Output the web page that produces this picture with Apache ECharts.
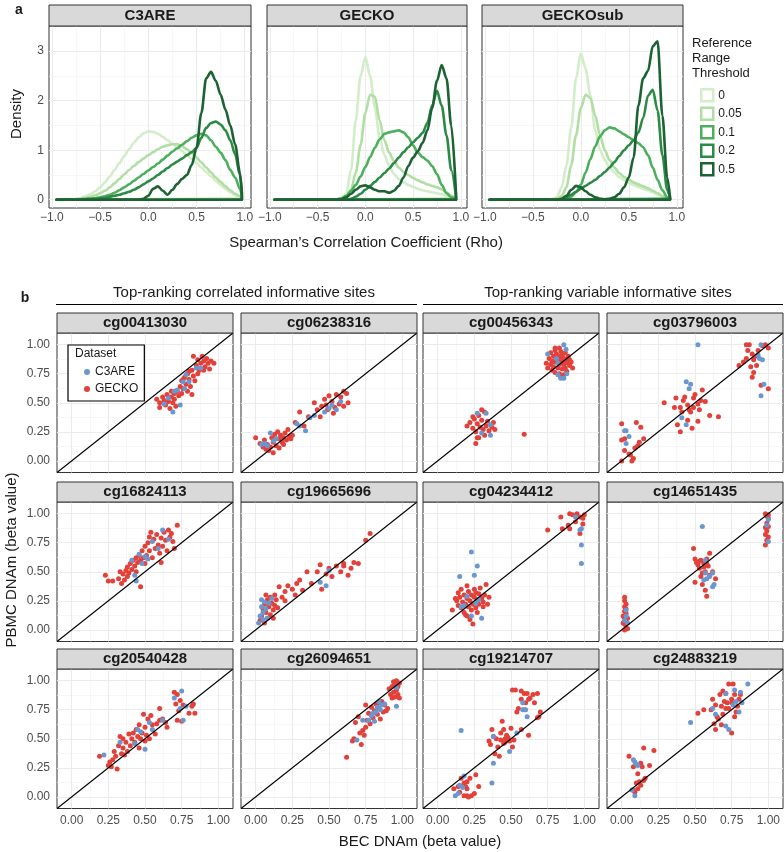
<!DOCTYPE html>
<html><head><meta charset="utf-8">
<script src="https://cdn.jsdelivr.net/npm/echarts@6/dist/echarts.min.js"></script>
<style>html,body{margin:0;padding:0;background:#fff}#c{width:784px;height:852px}</style>
</head><body><div id="c"></div>
<script>
// ================= DATA: panel a (density of Spearman's rho) =================
const facetsA = ['C3ARE', 'GECKO', 'GECKOsub'];
const thresholds = ['0', '0.05', '0.1', '0.2', '0.5'];
const rhoTicks = [-1, -0.5, 0, 0.5, 1];
const rhoTickLabels = ['\u22121.0', '\u22120.5', '0.0', '0.5', '1.0'];
const rhoMinor = [-0.75, -0.25, 0.25, 0.75];
const densTicks = [0, 1, 2, 3];
const densTickLabels = ['0', '1', '2', '3'];
const densMinor = [0.5, 1.5, 2.5];

const rhoC3ARE = [-0.95,-0.9,-0.85,-0.8,-0.75,-0.7,-0.65,-0.6,-0.55,-0.5,-0.45,-0.4,-0.35,-0.3,-0.25,-0.2,-0.15,-0.1,-0.05,0,0.05,0.1,0.15,0.2,0.25,0.3,0.35,0.4,0.45,0.5,0.55,0.6,0.65,0.7,0.75,0.8,0.85,0.9,0.95,0.97];
const rhoGECKO = [-0.95,-0.9,-0.85,-0.8,-0.75,-0.7,-0.65,-0.6,-0.55,-0.5,-0.45,-0.4,-0.35,-0.3,-0.25,-0.2,-0.15,-0.1,-0.05,0,0.05,0.1,0.15,0.2,0.25,0.3,0.35,0.4,0.45,0.5,0.55,0.6,0.65,0.7,0.75,0.8,0.85,0.9,0.95];
const rhoGECKOsub = [-0.95,-0.9,-0.85,-0.8,-0.75,-0.7,-0.65,-0.6,-0.55,-0.5,-0.45,-0.4,-0.35,-0.3,-0.25,-0.2,-0.15,-0.1,-0.05,0,0.05,0.1,0.15,0.2,0.25,0.3,0.35,0.4,0.45,0.5,0.55,0.6,0.65,0.7,0.75,0.8,0.85,0.9,0.93];

const densC3ARE_0   = [0,0,0.005,0.01,0.02,0.04,0.07,0.11,0.17,0.25,0.35,0.47,0.6,0.74,0.88,1.02,1.15,1.26,1.34,1.38,1.37,1.33,1.27,1.2,1.13,1.06,0.98,0.9,0.82,0.74,0.65,0.56,0.47,0.38,0.3,0.22,0.15,0.09,0.05,0.03];
const densC3ARE_005 = [0,0,0,0.005,0.01,0.02,0.04,0.06,0.09,0.13,0.18,0.25,0.33,0.42,0.51,0.6,0.68,0.76,0.83,0.9,0.96,1.02,1.07,1.1,1.12,1.12,1.08,1.02,0.94,0.85,0.75,0.65,0.55,0.45,0.36,0.27,0.19,0.12,0.07,0.05];
const densC3ARE_01  = [0,0,0,0,0.005,0.01,0.015,0.02,0.03,0.05,0.07,0.1,0.14,0.19,0.25,0.31,0.38,0.45,0.52,0.59,0.66,0.73,0.81,0.89,0.97,1.04,1.11,1.18,1.25,1.3,1.33,1.3,1.2,1.07,0.95,0.8,0.6,0.45,0.22,0.08];
const densC3ARE_02  = [0,0,0,0,0,0.005,0.01,0.015,0.02,0.03,0.04,0.06,0.08,0.1,0.13,0.16,0.2,0.25,0.31,0.37,0.43,0.5,0.57,0.64,0.71,0.77,0.83,0.9,0.96,1.05,1.25,1.45,1.55,1.58,1.52,1.4,1.2,0.92,0.5,0.12];
const densC3ARE_05  = [0,0,0,0,0,0,0,0,0,0,0,0,0,0,0,0,0,0,0.02,0.08,0.22,0.27,0.18,0.1,0.2,0.32,0.42,0.5,0.7,1.05,1.75,2.45,2.58,2.4,2.12,1.82,1.5,1.12,0.55,0.15];

const densGECKO_0   = [0,0,0,0,0,0,0,0,0,0,0,0,0,0.01,0.03,0.12,0.6,1.6,2.5,2.88,2.5,1.86,1.25,0.9,0.68,0.52,0.42,0.35,0.3,0.26,0.22,0.19,0.17,0.15,0.13,0.11,0.08,0.05,0.02];
const densGECKO_005 = [0,0,0,0,0,0,0,0,0,0,0,0,0,0,0.01,0.05,0.2,0.55,1.1,1.75,2.12,2.08,1.6,1.2,0.95,0.78,0.65,0.56,0.5,0.44,0.39,0.35,0.31,0.28,0.25,0.21,0.15,0.08,0.02];
const densGECKO_01  = [0,0,0,0,0,0,0,0,0,0,0,0,0,0.01,0.03,0.08,0.18,0.3,0.47,0.66,0.86,1.05,1.22,1.33,1.36,1.38,1.4,1.36,1.26,1.1,0.95,0.86,0.79,0.68,0.52,0.3,0.13,0.05,0.01];
const densGECKO_02  = [0,0,0,0,0,0,0,0,0,0,0,0,0,0,0,0,0.02,0.06,0.12,0.2,0.28,0.36,0.45,0.54,0.63,0.74,0.85,0.96,1.06,1.16,1.25,1.35,1.55,1.9,2.2,1.9,1.3,0.6,0.05];
const densGECKO_05  = [0,0,0,0,0,0,0,0,0,0,0,0,0,0,0.01,0.05,0.12,0.2,0.27,0.29,0.25,0.2,0.17,0.17,0.14,0.18,0.28,0.45,0.68,0.85,0.98,1.15,1.4,1.85,2.4,2.72,2.45,1.5,0.12];

const densGECKOsub_0   = [0,0,0,0,0,0,0,0,0,0,0,0,0,0.01,0.05,0.25,0.7,1.45,2.45,2.95,2.65,2.1,1.4,1.0,0.8,0.65,0.55,0.46,0.4,0.34,0.3,0.26,0.22,0.19,0.15,0.1,0.06,0.03,0.01];
const densGECKOsub_005 = [0,0,0,0,0,0,0,0,0,0,0,0,0,0,0.02,0.07,0.25,0.7,1.3,1.85,2.12,2.05,1.7,1.3,1.0,0.8,0.65,0.54,0.46,0.4,0.35,0.31,0.27,0.23,0.18,0.13,0.08,0.03,0.01];
const densGECKOsub_01  = [0,0,0,0,0,0,0,0,0,0,0,0,0,0,0,0,0.02,0.06,0.15,0.3,0.55,0.82,1.08,1.28,1.4,1.46,1.44,1.38,1.32,1.26,1.2,1.14,1.06,0.9,0.65,0.4,0.19,0.05,0.01];
const densGECKOsub_02  = [0,0,0,0,0,0,0,0,0,0,0,0,0,0,0,0.02,0.05,0.1,0.16,0.22,0.28,0.34,0.4,0.48,0.56,0.65,0.76,0.88,1.0,1.1,1.2,1.36,1.65,2.1,2.22,1.8,0.9,0.2,0.02];
const densGECKOsub_05  = [0,0,0,0,0,0,0,0,0,0,0,0,0,0,0,0.02,0.08,0.2,0.28,0.25,0.17,0.1,0.05,0.02,0.01,0.02,0.05,0.12,0.25,0.45,0.85,1.9,2.45,2.6,3.1,3.2,1.7,0.45,0.05];

const rhoByFacet = [rhoC3ARE, rhoGECKO, rhoGECKOsub];
const densByFacet = [
  [densC3ARE_0, densC3ARE_005, densC3ARE_01, densC3ARE_02, densC3ARE_05],
  [densGECKO_0, densGECKO_005, densGECKO_01, densGECKO_02, densGECKO_05],
  [densGECKOsub_0, densGECKOsub_005, densGECKOsub_01, densGECKOsub_02, densGECKOsub_05]
];

// ================= DATA: panel b (BEC vs PBMC DNAm) =================
const sites = ['cg00413030','cg06238316','cg00456343','cg03796003',
               'cg16824113','cg19665696','cg04234412','cg14651435',
               'cg20540428','cg26094651','cg19214707','cg24883219'];
const datasets = ['C3ARE', 'GECKO'];
const betaTicks = [0, 0.25, 0.5, 0.75, 1];
const betaTickLabels = ['0.00', '0.25', '0.50', '0.75', '1.00'];
const betaMinor = [0.125, 0.375, 0.625, 0.875];

const c3are_cg00413030 = [[0.63,0.49],[0.69,0.42],[0.74,0.48],[0.78,0.74],[0.76,0.68],[0.72,0.61],[0.85,0.8],[0.88,0.8],[0.66,0.54],[0.77,0.62],[0.7,0.6],[0.8,0.68]];
const gecko_cg00413030 = [[0.58,0.53],[0.6,0.5],[0.6,0.46],[0.62,0.55],[0.63,0.52],[0.64,0.48],[0.65,0.57],[0.66,0.51],[0.67,0.45],[0.68,0.55],[0.69,0.5],[0.7,0.53],[0.7,0.58],[0.71,0.47],[0.72,0.6],[0.73,0.56],[0.74,0.64],[0.75,0.58],[0.75,0.69],[0.76,0.62],[0.77,0.72],[0.78,0.66],[0.79,0.6],[0.79,0.75],[0.8,0.7],[0.81,0.64],[0.82,0.78],[0.82,0.57],[0.83,0.73],[0.84,0.69],[0.85,0.82],[0.86,0.87],[0.87,0.78],[0.88,0.84],[0.89,0.9],[0.9,0.86],[0.91,0.81],[0.92,0.88],[0.93,0.84],[0.95,0.86],[0.97,0.84],[0.9,0.78],[0.94,0.79],[0.86,0.75],[0.8,0.77],[0.76,0.7],[0.68,0.6],[0.83,0.9]];

const c3are_cg06238316 = [[0.06,0.15],[0.08,0.13],[0.1,0.24],[0.12,0.17],[0.14,0.19],[0.28,0.32],[0.3,0.3],[0.34,0.26],[0.37,0.37],[0.4,0.39],[0.47,0.42],[0.5,0.45],[0.52,0.48],[0.55,0.44],[0.58,0.51],[0.04,0.14]];
const gecko_cg06238316 = [[0.0,0.2],[0.03,0.15],[0.05,0.12],[0.06,0.18],[0.07,0.1],[0.08,0.14],[0.09,0.09],[0.1,0.12],[0.11,0.2],[0.12,0.16],[0.13,0.23],[0.14,0.13],[0.15,0.25],[0.16,0.19],[0.17,0.22],[0.18,0.16],[0.19,0.2],[0.2,0.24],[0.21,0.18],[0.22,0.27],[0.23,0.21],[0.25,0.22],[0.27,0.33],[0.3,0.42],[0.33,0.3],[0.36,0.38],[0.4,0.5],[0.42,0.44],[0.44,0.38],[0.45,0.47],[0.47,0.53],[0.48,0.48],[0.5,0.56],[0.52,0.51],[0.54,0.46],[0.55,0.57],[0.57,0.49],[0.58,0.55],[0.6,0.6],[0.62,0.58],[0.6,0.47],[0.63,0.5],[0.53,0.41],[0.49,0.44],[0.12,0.07],[0.16,0.11],[0.19,0.14],[0.24,0.19],[0.13,0.19]];

const c3are_cg00456343 = [[0.75,0.92],[0.86,1.0],[0.875,0.96],[0.82,0.84],[0.82,0.74],[0.84,0.71],[0.86,0.71],[0.88,0.75],[0.81,0.88],[0.27,0.41],[0.33,0.41],[0.36,0.31],[0.3,0.24],[0.36,0.22]];
const gecko_cg00456343 = [[0.74,0.84],[0.75,0.8],[0.76,0.88],[0.77,0.83],[0.77,0.93],[0.78,0.78],[0.78,0.86],[0.79,0.9],[0.79,0.81],[0.8,0.95],[0.8,0.85],[0.8,0.76],[0.81,0.88],[0.81,0.92],[0.82,0.8],[0.82,0.86],[0.83,0.9],[0.83,0.83],[0.83,0.75],[0.84,0.88],[0.84,0.94],[0.85,0.85],[0.85,0.79],[0.85,0.91],[0.86,0.83],[0.86,0.88],[0.87,0.8],[0.87,0.93],[0.88,0.86],[0.88,0.77],[0.89,0.84],[0.89,0.9],[0.9,0.82],[0.9,0.87],[0.91,0.85],[0.92,0.8],[0.84,0.72],[0.8,0.97],[0.86,0.74],[0.83,0.97],
  [0.2,0.3],[0.22,0.33],[0.24,0.28],[0.25,0.36],[0.26,0.25],[0.27,0.32],[0.28,0.39],[0.28,0.2],[0.29,0.29],[0.3,0.35],[0.31,0.27],[0.32,0.42],[0.32,0.22],[0.33,0.3],[0.34,0.34],[0.35,0.26],[0.37,0.29],[0.38,0.33],[0.39,0.27],[0.26,0.15],[0.27,0.2],[0.24,0.38],[0.3,0.44],[0.59,0.23]];

const c3are_cg03796003 = [[0.02,0.26],[0.03,0.26],[0.05,0.21],[0.03,0.15],[0.44,0.68],[0.47,0.66],[0.46,0.62],[0.41,0.37],[0.44,0.31],[0.52,1.0],[0.95,1.0],[0.94,0.88],[0.96,0.87],[0.97,0.66],[0.95,0.56],[0.93,0.91]];
const gecko_cg03796003 = [[0,0.32],[0,0.18],[0.02,0.09],[0,0.0],[0.06,0.05],[0.07,0.0],[0.08,0.02],[0.1,0.33],[0.13,0.29],[0.12,0.16],[0.11,0.13],[0.09,0.11],[0.05,0.06],[0.15,0.19],[0.02,0.19],
  [0.29,0.5],[0.37,0.54],[0.4,0.46],[0.43,0.55],[0.45,0.48],[0.47,0.42],[0.49,0.54],[0.52,0.49],[0.54,0.52],[0.55,0.61],[0.57,0.51],[0.6,0.39],[0.66,0.38],[0.38,0.31],[0.4,0.25],[0.45,0.35],[0.48,0.28],[0.52,0.34],[0.36,0.46],[0.41,0.42],[0.49,0.46],[0.46,0.44],[0.53,0.44],[0.42,0.52],[0.5,0.57],
  [0.85,1.0],[0.87,1.0],[0.86,0.95],[0.89,0.92],[0.9,0.87],[0.93,0.95],[0.97,0.99],[1.0,0.97],[0.98,1.0],[0.88,0.81],[0.92,0.82],[0.8,0.82],[0.85,0.88],[0.89,0.72],[0.9,0.76],[0.95,0.65],[1.0,0.62],[0.96,0.99],[0.91,0.9],[0.83,0.85]];

const c3are_cg16824113 = [[0.41,0.6],[0.43,0.47],[0.44,0.42],[0.46,0.65],[0.48,0.57],[0.5,0.63],[0.55,0.76],[0.59,0.7],[0.62,0.86],[0.66,0.78],[0.52,0.61]];
const gecko_cg16824113 = [[0.23,0.47],[0.25,0.42],[0.28,0.42],[0.32,0.44],[0.33,0.5],[0.34,0.4],[0.35,0.48],[0.36,0.43],[0.37,0.51],[0.38,0.46],[0.38,0.54],[0.39,0.49],[0.4,0.57],[0.41,0.52],[0.42,0.6],[0.43,0.55],[0.44,0.62],[0.44,0.5],[0.45,0.58],[0.46,0.64],[0.47,0.6],[0.47,0.37],[0.48,0.68],[0.49,0.62],[0.5,0.72],[0.5,0.57],[0.51,0.64],[0.52,0.75],[0.53,0.68],[0.54,0.84],[0.55,0.62],[0.56,0.78],[0.57,0.7],[0.58,0.82],[0.59,0.73],[0.6,0.66],[0.61,0.79],[0.62,0.72],[0.63,0.84],[0.64,0.77],[0.65,0.68],[0.66,0.86],[0.67,0.8],[0.68,0.83],[0.7,0.7],[0.72,0.9],[0.69,0.76],[0.61,0.58],[0.53,0.8]];

const c3are_cg19665696 = [[0.02,0.06],[0.03,0.12],[0.04,0.2],[0.04,0.26],[0.05,0.15],[0.06,0.24],[0.07,0.18],[0.08,0.1],[0.09,0.23],[0.11,0.27],[0.05,0.09],[0.44,0.41],[0.48,0.38],[0.5,0.51]];
const gecko_cg19665696 = [[0.03,0.08],[0.04,0.12],[0.05,0.18],[0.06,0.22],[0.06,0.06],[0.07,0.15],[0.08,0.26],[0.08,0.1],[0.09,0.2],[0.1,0.28],[0.1,0.13],[0.11,0.23],[0.12,0.17],[0.13,0.3],[0.13,0.21],[0.14,0.26],[0.15,0.19],[0.12,0.1],[0.07,0.3],[0.18,0.28],[0.2,0.25],
  [0.16,0.37],[0.2,0.33],[0.22,0.38],[0.25,0.35],[0.27,0.3],[0.28,0.4],[0.3,0.43],[0.32,0.34],[0.35,0.5],[0.38,0.4],[0.42,0.5],[0.45,0.35],[0.48,0.48],[0.52,0.46],[0.55,0.55],[0.58,0.5],[0.6,0.55],[0.63,0.47],[0.65,0.53],[0.67,0.58],[0.7,0.57],[0.75,0.77],[0.78,0.83],[0.6,0.57],[0.5,0.53],[0.44,0.56]];

const c3are_cg04234412 = [[0.94,0.97],[0.98,0.87],[0.97,0.86],[0.98,0.73],[0.98,0.57],[0.23,0.67],[0.27,0.55],[0.15,0.46],[0.25,0.47],[0.23,0.12],[0.3,0.1],[0.18,0.21],[0.28,0.26],[0.26,0.23],[0.2,0.29],[0.16,0.2]];
const gecko_cg04234412 = [[0.75,0.86],[0.84,0.97],[0.85,0.87],[0.89,0.9],[0.9,1.0],[0.92,0.99],[0.95,1.0],[0.97,0.97],[0.99,0.96],[1.0,0.99],[0.94,0.93],[0.97,0.83],[0.99,0.91],[0.9,0.87],
  [0.1,0.17],[0.12,0.27],[0.13,0.25],[0.14,0.21],[0.15,0.28],[0.16,0.19],[0.17,0.24],[0.18,0.3],[0.18,0.15],[0.19,0.22],[0.2,0.27],[0.2,0.12],[0.21,0.33],[0.21,0.2],[0.22,0.25],[0.23,0.3],[0.23,0.17],[0.24,0.22],[0.25,0.28],[0.25,0.35],[0.26,0.19],[0.27,0.26],[0.28,0.31],[0.28,0.22],[0.29,0.36],[0.3,0.27],[0.31,0.24],[0.32,0.3],[0.33,0.39],[0.34,0.22],[0.35,0.28],[0.16,0.35],[0.2,0.38],[0.24,0.05],[0.22,0.09],[0.19,0.13],[0.27,0.15],[0.31,0.2],[0.14,0.32],[0.26,0.32]];

const c3are_cg14651435 = [[0.03,0.12],[0.02,0.08],[0.04,0.06],[0.03,0.17],[0.55,0.89],[0.57,0.49],[0.58,0.44],[0.6,0.46],[0.62,0.49],[0.62,0.37],[0.63,0.39],[0.57,0.6],[0.56,0.43],[1.0,0.95],[1.0,0.76],[0.99,0.9]];
const gecko_cg14651435 = [[0.02,0.28],[0.02,0.25],[0.03,0.22],[0.02,0.2],[0.03,0.18],[0.02,0.16],[0.03,0.14],[0.02,0.1],[0.03,0.08],[0.02,0.05],[0.03,0.02],[0.02,0.0],[0.04,0.01],[0.01,0.06],[0.04,0.1],[0.01,0.12],
  [0.49,0.7],[0.5,0.61],[0.52,0.56],[0.54,0.6],[0.56,0.57],[0.58,0.61],[0.6,0.66],[0.53,0.53],[0.55,0.49],[0.57,0.5],[0.5,0.41],[0.55,0.39],[0.57,0.34],[0.58,0.29],[0.64,0.44],[0.6,0.47],[0.53,0.59],[0.56,0.54],[0.59,0.55],[0.54,0.46],[0.51,0.58],[0.58,0.57],[0.62,0.5],
  [0.98,1.0],[0.99,0.98],[1.0,0.99],[1.0,0.96],[0.99,0.92],[0.98,0.88],[0.99,0.85],[0.98,0.82],[1.0,0.8],[0.99,0.77],[0.98,0.73],[1.0,0.89]];

const c3are_cg20540428 = [[0.22,0.36],[0.33,0.47],[0.43,0.46],[0.45,0.58],[0.5,0.41],[0.53,0.64],[0.55,0.58],[0.62,0.66],[0.7,0.85],[0.75,0.91],[0.74,0.76],[0.76,0.66],[0.78,0.78],[0.47,0.56]];
const gecko_cg20540428 = [[0.19,0.35],[0.25,0.27],[0.26,0.3],[0.27,0.26],[0.29,0.39],[0.3,0.35],[0.31,0.24],[0.32,0.44],[0.33,0.52],[0.34,0.37],[0.35,0.42],[0.36,0.36],[0.37,0.47],[0.38,0.39],[0.39,0.54],[0.4,0.44],[0.41,0.5],[0.42,0.55],[0.43,0.47],[0.44,0.58],[0.45,0.52],[0.46,0.42],[0.46,0.62],[0.47,0.5],[0.48,0.55],[0.49,0.71],[0.5,0.48],[0.5,0.6],[0.51,0.53],[0.52,0.67],[0.53,0.5],[0.54,0.7],[0.55,0.62],[0.57,0.54],[0.58,0.63],[0.6,0.76],[0.6,0.66],[0.62,0.67],[0.64,0.64],[0.7,0.9],[0.71,0.8],[0.72,0.88],[0.73,0.74],[0.74,0.83],[0.75,0.65],[0.76,0.79],[0.8,0.72],[0.82,0.78],[0.83,0.8],[0.84,0.72],[0.72,0.66],[0.65,0.6],[0.35,0.5],[0.28,0.32]];

const c3are_cg26094651 = [[0.69,0.49],[0.73,0.66],[0.77,0.66],[0.79,0.7],[0.81,0.65],[0.82,0.73],[0.83,0.77],[0.85,0.75],[0.86,0.79],[0.88,0.8],[0.84,0.82],[0.96,0.94],[0.96,0.78],[0.8,0.72]];
const gecko_cg26094651 = [[0.62,0.34],[0.66,0.48],[0.67,0.5],[0.68,0.64],[0.7,0.69],[0.72,0.45],[0.73,0.57],[0.74,0.53],[0.75,0.6],[0.75,0.79],[0.76,0.66],[0.77,0.72],[0.78,0.63],[0.79,0.77],[0.8,0.68],[0.81,0.74],[0.82,0.8],[0.83,0.71],[0.84,0.76],[0.85,0.67],[0.86,0.82],[0.87,0.73],[0.88,0.79],[0.89,0.74],[0.9,0.76],[0.91,0.93],[0.92,0.88],[0.93,0.85],[0.94,0.9],[0.95,0.97],[0.95,0.86],[0.96,1.0],[0.96,0.92],[0.97,0.95],[0.97,0.88],[0.98,0.98],[0.98,0.85],[0.94,0.99],[0.93,0.95],[0.97,0.97],[0.84,0.81],[0.79,0.7],[0.71,0.55]];

const c3are_cg19214707 = [[0.12,0.01],[0.14,0.03],[0.15,0.1],[0.17,0.08],[0.18,0.18],[0.37,0.12],[0.16,0.57],[0.58,0.75],[0.59,0.75],[0.6,0.75],[0.58,0.81],[0.61,0.69],[0.54,0.55],[0.49,0.39],[0.38,0.29],[0.38,0.52]];
const gecko_cg19214707 = [[0.11,0.07],[0.14,0.09],[0.18,0.01],[0.2,0.01],[0.21,0.0],[0.23,0.01],[0.25,0.03],[0.18,0.12],[0.2,0.13],[0.22,0.16],[0.26,0.19],[0.28,0.09],[0.15,0.04],[0.19,0.09],[0.2,0.07],[0.16,0.16],
  [0.35,0.48],[0.36,0.45],[0.38,0.52],[0.39,0.37],[0.41,0.43],[0.43,0.49],[0.44,0.65],[0.45,0.58],[0.46,0.5],[0.47,0.53],[0.49,0.48],[0.5,0.59],[0.51,0.43],[0.52,0.49],[0.57,0.58],[0.62,0.53],[0.42,0.35],[0.45,0.46],[0.47,0.5],[0.43,0.55],[0.37,0.58],[0.48,0.51],[0.46,0.47],[0.4,0.5],
  [0.51,0.92],[0.53,0.92],[0.57,0.91],[0.59,0.89],[0.61,0.89],[0.65,0.88],[0.68,0.89],[0.6,0.81],[0.62,0.84],[0.66,0.81],[0.54,0.73],[0.55,0.76],[0.7,0.73],[0.69,0.69],[0.68,0.68],[0.57,0.84],[0.63,0.85]];

const c3are_cg24883219 = [[0.08,0.32],[0.09,0.3],[0.11,0.27],[0.07,0.06],[0.09,0.01],[0.1,0.28],[0.47,0.64],[0.62,0.76],[0.64,0.71],[0.71,0.89],[0.77,0.92],[0.81,0.9],[0.82,0.81],[0.8,0.73],[0.86,0.97],[0.71,0.61],[0.73,0.58],[0.76,0.79],[0.78,0.82]];
const gecko_cg24883219 = [[0.05,0.35],[0.08,0.26],[0.13,0.29],[0.15,0.42],[0.22,0.4],[0.14,0.26],[0.11,0.2],[0.1,0.12],[0.13,0.1],[0.11,0.07],[0.09,0.04],[0.15,0.14],[0.16,0.16],[0.19,0.27],[0.08,0.06],[0.12,0.13],
  [0.52,0.72],[0.56,0.75],[0.62,0.84],[0.63,0.63],[0.64,0.58],[0.65,0.69],[0.67,0.88],[0.69,0.91],[0.71,0.89],[0.73,0.97],[0.76,0.97],[0.75,0.84],[0.73,0.76],[0.71,0.76],[0.69,0.71],[0.75,0.55],[0.77,0.69],[0.78,0.73],[0.8,0.84],[0.81,0.88],[0.68,0.62],[0.77,0.88],[0.64,0.79],[0.61,0.75],[0.79,0.78],[0.72,0.81],[0.7,0.82],[0.68,0.78],[0.75,0.81],[0.66,0.67]];

const c3areBySite = [c3are_cg00413030, c3are_cg06238316, c3are_cg00456343, c3are_cg03796003,
  c3are_cg16824113, c3are_cg19665696, c3are_cg04234412, c3are_cg14651435,
  c3are_cg20540428, c3are_cg26094651, c3are_cg19214707, c3are_cg24883219];
const geckoBySite = [gecko_cg00413030, gecko_cg06238316, gecko_cg00456343, gecko_cg03796003,
  gecko_cg16824113, gecko_cg19665696, gecko_cg04234412, gecko_cg14651435,
  gecko_cg20540428, gecko_cg26094651, gecko_cg19214707, gecko_cg24883219];

// ================= STYLE / LAYOUT =================
const FONT = '"Liberation Sans", Arial, Helvetica, sans-serif';
const greens = ['#d3edc9', '#b0dea3', '#4caf5c', '#2b8b45', '#1c6233'];
const datasetColors = ['#6a97cf', '#e3403a'];
const rangeA = {x: [-1.03, 1.065], y: [-0.167, 3.507]};
const rangeB = [-0.1, 1.1];
const boxesA = [{left: 49, width: 202}, {left: 267, width: 200}, {left: 482, width: 201}];
const topA = 26, heightA = 182, stripA = 21;
const colsB = [57, 241, 423, 607], widthB = 176;
const rowsB = [333, 502, 669], heightB = 139.5, stripB = 20;

function lab(ticks, labels) {
  return function (v) {
    for (let i = 0; i < ticks.length; i++) if (Math.abs(ticks[i] - v) < 1e-6) return labels[i];
    return '';
  };
}
function axis(gi, range, ticks, labels, show, margin) {
  return {
    gridIndex: gi, type: 'value', min: range[0], max: range[1],
    axisLine: {show: false}, splitLine: {show: false}, minorTick: {show: false}, minorSplitLine: {show: false},
    axisTick: {show: show, customValues: ticks, length: 3, lineStyle: {color: '#333333', width: 1}},
    axisLabel: {show: show, customValues: ticks, margin: margin, fontSize: 12, color: '#4d4d4d', fontFamily: FONT,
      formatter: lab(ticks, labels), hideOverlap: false}
  };
}
function gridLineSeries(gi, xMaj, xMin, yMaj, yMin) {
  const d = [];
  const maj = {color: '#ebebeb', width: 1.1, type: 'solid'};
  const mnr = {color: '#f4f4f4', width: 0.7, type: 'solid'};
  xMin.forEach(v => d.push({xAxis: v, lineStyle: mnr}));
  yMin.forEach(v => d.push({yAxis: v, lineStyle: mnr}));
  xMaj.forEach(v => d.push({xAxis: v, lineStyle: maj}));
  yMaj.forEach(v => d.push({yAxis: v, lineStyle: maj}));
  return {type: 'line', xAxisIndex: gi, yAxisIndex: gi, data: [], silent: true, z: 1,
    markLine: {silent: true, z: 1, precision: 6, symbol: ['none', 'none'], label: {show: false},
      emphasis: {disabled: true}, animation: false, data: d}};
}

const grids = [], xAxes = [], yAxes = [], series = [], gfx = [];

// ---- panel a ----
facetsA.forEach((f, fi) => {
  const gi = grids.length;
  const b = boxesA[fi];
  grids.push({left: b.left, top: topA, width: b.width, height: heightA, show: true,
    borderColor: '#333333', borderWidth: 1, backgroundColor: '#ffffff', containLabel: false});
  xAxes.push(axis(gi, rangeA.x, rhoTicks, rhoTickLabels, true, 4));
  yAxes.push(axis(gi, rangeA.y, densTicks, densTickLabels, fi === 0, 5));
  series.push(gridLineSeries(gi, rhoTicks, rhoMinor, densTicks, densMinor));
  const xs = rhoByFacet[fi];
  densByFacet[fi].forEach((ys, ti) => {
    const style = {color: greens[ti], width: 2.6, cap: 'round', join: 'round'};
    series.push({type: 'line', name: thresholds[ti], xAxisIndex: gi, yAxisIndex: gi,
      data: xs.map((x, i) => [x, ys[i]]), symbol: 'none', smooth: 0.3, smoothMonotone: 'x',
      lineStyle: style, itemStyle: {color: greens[ti]}, z: 2 + ti * 0.01, silent: true});
    // ggplot draws the closed density outline: drop to zero and baseline back to the first value
    const last = xs.length - 1;
    series.push({type: 'line', name: thresholds[ti], xAxisIndex: gi, yAxisIndex: gi,
      data: [[xs[last], ys[last]], [xs[last], 0], [xs[0], 0]], symbol: 'none', smooth: false,
      lineStyle: style, itemStyle: {color: greens[ti]}, z: 2 + ti * 0.01, silent: true});
  });
  gfx.push({type: 'rect', shape: {x: b.left, y: topA - stripA, width: b.width, height: stripA},
    style: {fill: '#d9d9d9', stroke: '#333333', lineWidth: 1}, z: 5});
  gfx.push({type: 'text', x: b.left + b.width / 2, y: topA - stripA / 2, z: 6,
    style: {text: f, align: 'center', verticalAlign: 'middle', font: 'bold 15px ' + FONT, fill: '#1a1a1a'}});
});

// ---- panel b ----
sites.forEach((s, si) => {
  const gi = grids.length;
  const r = Math.floor(si / 4), c = si % 4;
  const left = colsB[c], top = rowsB[r];
  grids.push({left: left, top: top, width: widthB, height: heightB, show: true,
    borderColor: '#333333', borderWidth: 1, backgroundColor: '#ffffff', containLabel: false});
  xAxes.push(axis(gi, rangeB, betaTicks, betaTickLabels, r === 2, 6));
  yAxes.push(axis(gi, rangeB, betaTicks, betaTickLabels, c === 0, 7));
  series.push(gridLineSeries(gi, betaTicks, betaMinor, betaTicks, betaMinor));
  series.push({type: 'scatter', name: datasets[1], xAxisIndex: gi, yAxisIndex: gi, data: geckoBySite[si],
    symbolSize: 5, itemStyle: {color: datasetColors[1], opacity: 1}, z: 3, silent: true});
  series.push({type: 'scatter', name: datasets[0], xAxisIndex: gi, yAxisIndex: gi, data: c3areBySite[si],
    symbolSize: 5, itemStyle: {color: datasetColors[0], opacity: 1}, z: 3, silent: true});
  // identity line y = x across the panel range
  series.push({type: 'line', xAxisIndex: gi, yAxisIndex: gi, data: [[rangeB[0], rangeB[0]], [rangeB[1], rangeB[1]]],
    symbol: 'none', lineStyle: {color: '#000000', width: 1.1}, z: 4, silent: true});
  gfx.push({type: 'rect', shape: {x: left, y: top - stripB, width: widthB, height: stripB},
    style: {fill: '#d9d9d9', stroke: '#333333', lineWidth: 1}, z: 5});
  gfx.push({type: 'text', x: left + widthB / 2, y: top - stripB / 2, z: 6,
    style: {text: s, align: 'center', verticalAlign: 'middle', font: 'bold 15px ' + FONT, fill: '#1a1a1a'}});
});

// ---- text annotations ----
function txt(t, x, y, font, align, rot) {
  const e = {type: 'text', x: x, y: y, z: 6, style: {text: t, align: align || 'center', verticalAlign: 'middle', font: font, fill: '#1a1a1a'}};
  if (rot) e.rotation = rot;
  return e;
}
gfx.push(txt('a', 19, 10, 'bold 14px ' + FONT, 'center'));
gfx.push(txt('Density', 17, 114, '15px ' + FONT, 'center', Math.PI / 2));
gfx.push(txt('Spearman\u2019s Correlation Coefficient (Rho)', 366, 243, '15px ' + FONT, 'center'));
gfx.push(txt('Reference', 692, 43, '13px ' + FONT, 'left'));
gfx.push(txt('Range', 692, 58, '13px ' + FONT, 'left'));
gfx.push(txt('Threshold', 692, 73, '13px ' + FONT, 'left'));
gfx.push(txt('b', 25, 298, 'bold 14px ' + FONT, 'center'));
gfx.push(txt('Top-ranking correlated informative sites', 244, 293, '15px ' + FONT, 'center'));
gfx.push(txt('Top-ranking variable informative sites', 608, 293, '15px ' + FONT, 'center'));
gfx.push({type: 'line', shape: {x1: 56, y1: 304.5, x2: 417, y2: 304.5}, style: {stroke: '#000', lineWidth: 1}, z: 6});
gfx.push({type: 'line', shape: {x1: 423, y1: 304.5, x2: 783, y2: 304.5}, style: {stroke: '#000', lineWidth: 1}, z: 6});
gfx.push(txt('PBMC DNAm (beta value)', 12, 560, '15px ' + FONT, 'center', Math.PI / 2));
gfx.push(txt('BEC DNAm (beta value)', 420, 842, '15px ' + FONT, 'center'));
gfx.push(txt('Dataset', 75, 354, '12px ' + FONT, 'left'));
gfx[gfx.length - 1].z = 20;

const option = {
  animation: false,
  backgroundColor: '#ffffff',
  grid: grids, xAxis: xAxes, yAxis: yAxes, series: series,
  legend: [
    {left: 700, top: 88, orient: 'vertical', padding: 0, itemWidth: 12, itemHeight: 12, itemGap: 4,
      selectedMode: false, icon: 'rect',
      data: thresholds.map((t, i) => ({name: t, itemStyle: {color: '#ffffff', borderColor: greens[i], borderWidth: 2.5}})),
      textStyle: {fontSize: 12, color: '#1a1a1a', fontFamily: FONT, lineHeight: 12}},
    {left: 68, top: 345, orient: 'vertical', padding: [20, 6, 5, 16], itemWidth: 6, itemHeight: 6, itemGap: 3,
      selectedMode: false, icon: 'circle', borderColor: '#000000', borderWidth: 1.2, backgroundColor: '#ffffff',
      data: datasets.map((d, i) => ({name: d, itemStyle: {color: datasetColors[i]}})), z: 10,
      textStyle: {fontSize: 12, color: '#1a1a1a', fontFamily: FONT, lineHeight: 14}}
  ],
  graphic: {elements: gfx}
};

const chart = echarts.init(document.getElementById('c'), null, {renderer: 'canvas'});
chart.setOption(option);
</script>
</body></html>
